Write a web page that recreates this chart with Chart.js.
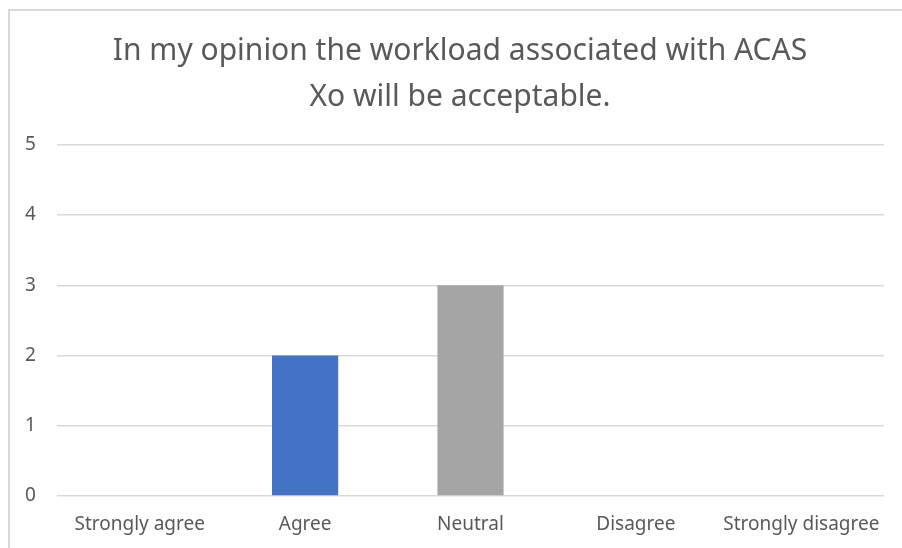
<!DOCTYPE html>
<html>
<head>
<meta charset="utf-8">
<script src="https://cdn.jsdelivr.net/npm/chart.js@4"></script>
<style>
  html, body { margin: 0; padding: 0; background: #ffffff; overflow: hidden; width: 902px; height: 548px; }
  #frame { position: absolute; left: 8px; top: 9px; width: 904px; height: 560px; border: 2px solid #d9d9d9; box-sizing: border-box; background: #fff; }
  #wrap { position: absolute; left: -2px; top: -2px; width: 904px; height: 560px; }
</style>
</head>
<body>
<div id="frame"><div id="wrap"><canvas id="c" width="904" height="560"></canvas></div></div>
<script>
const titleLines = ["In my opinion the workload associated with ACAS", "Xo will be acceptable."];
const categories = ["Strongly agree", "Agree", "Neutral", "Disagree", "Strongly disagree"];
const responses = [0, 2, 3, 0, 0];
const barColors = ["#4472C4", "#4472C4", "#A5A5A5", "#4472C4", "#4472C4"];
const yTicks = [0, 1, 2, 3, 4, 5];

const fontFam = "'Noto Sans', 'Liberation Sans', sans-serif";
const textColor = "#595959";

new Chart(document.getElementById('c'), {
  type: 'bar',
  data: {
    labels: categories,
    datasets: [{
      data: responses,
      backgroundColor: barColors,
      borderWidth: 0,
      categoryPercentage: 0.4,
      barPercentage: 1.0
    }]
  },
  options: {
    responsive: false,
    animation: false,
    layout: { padding: { left: 28, right: 28, top: 0, bottom: 0 } },
    plugins: {
      legend: { display: false },
      tooltip: { enabled: false },
      title: {
        display: true,
        text: titleLines,
        color: textColor,
        font: { family: fontFam, size: 30, weight: 'normal', lineHeight: 1.53 },
        padding: { top: 20, bottom: 24 }
      }
    },
    scales: {
      x: {
        grid: { display: false, drawTicks: false },
        border: { display: false },
        ticks: {
          color: textColor,
          font: { family: fontFam, size: 19 },
          padding: 17,
          maxRotation: 0,
          autoSkip: false
        },
        afterFit: (s) => { s.height = 73; }
      },
      y: {
        min: 0,
        max: 5,
        grid: { color: '#d9d9d9', lineWidth: 1.5, drawTicks: false },
        border: { display: false },
        afterBuildTicks: (s) => { s.ticks = yTicks.map(v => ({ value: v })); },
        ticks: {
          color: textColor,
          font: { family: fontFam, size: 19 },
          mirror: true,
          padding: -32
        },
        afterFit: (s) => { s.width = 21; }
      }
    }
  }
});
</script>
</body>
</html>
